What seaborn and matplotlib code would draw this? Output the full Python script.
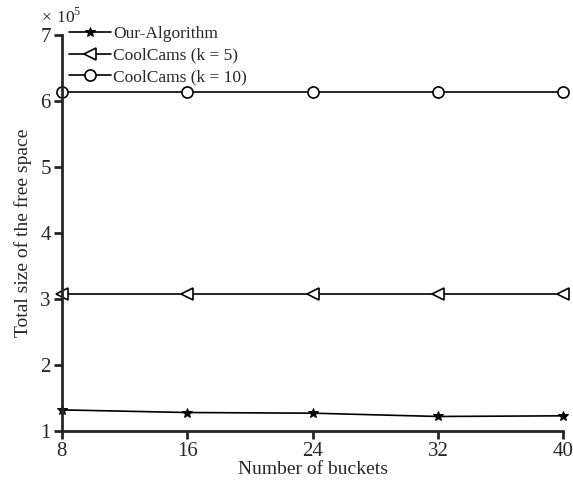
import numpy as np
import pandas as pd
import matplotlib
matplotlib.use('Agg')
import matplotlib.pyplot as plt
import seaborn as sns
from matplotlib.ticker import FuncFormatter

buckets = [8, 16, 24, 32, 40]
our_algorithm = [1.32e5, 1.28e5, 1.27e5, 1.22e5, 1.23e5]
coolcams_k5 = [3.08e5, 3.08e5, 3.08e5, 3.08e5, 3.08e5]
coolcams_k10 = [6.14e5, 6.14e5, 6.14e5, 6.14e5, 6.14e5]

sns.set_style('ticks')
plt.rcParams['font.family'] = ['Liberation Serif', 'DejaVu Serif']
plt.rcParams['mathtext.fontset'] = 'custom'
plt.rcParams['mathtext.rm'] = 'Liberation Serif'

fig = plt.figure(figsize=(5.73, 4.87), dpi=100)
ax = fig.add_axes([0.108, 0.115, 0.875, 0.813])

sns.lineplot(x=buckets, y=our_algorithm, ax=ax, color='black', lw=1.2,
             marker='*', markersize=7, markerfacecolor='black',
             markeredgecolor='black', label='Our-Algorithm')
sns.lineplot(x=buckets, y=coolcams_k5, ax=ax, color='black', lw=1.2,
             marker='<', markersize=8, markerfacecolor='white',
             markeredgecolor='black', markeredgewidth=1.2, label='CoolCams (k = 5)')
sns.lineplot(x=buckets, y=coolcams_k10, ax=ax, color='black', lw=1.2,
             marker='o', markersize=8, markerfacecolor='white',
             markeredgecolor='black', markeredgewidth=1.2, label='CoolCams (k = 10)')

for line in ax.lines:
    line.set_clip_on(False)

ax.set_xlim(8, 40)
ax.set_ylim(1e5, 7e5)
ax.set_xticks(buckets)
ax.set_yticks([1e5, 2e5, 3e5, 4e5, 5e5, 6e5, 7e5])
ax.yaxis.set_major_formatter(FuncFormatter(lambda v, p: f'{v / 1e5:g}'))
ax.text(-0.042, 1.02, r'$\times\ 10^{5}$', transform=ax.transAxes,
        fontsize=12.5, ha='left', va='bottom')

sns.despine(ax=ax)
for s in ['left', 'bottom']:
    ax.spines[s].set_linewidth(2)
ax.tick_params(direction='out', width=2, length=6, labelsize=15, pad=2)

ax.set_xlabel('Number of buckets', fontsize=14, labelpad=0)
ax.set_ylabel('Total size of the free space', fontsize=14, labelpad=6)

ax.legend(loc='upper left', bbox_to_anchor=(0.0, 1.04), frameon=False,
          fontsize=12.5, handlelength=2.45, handletextpad=0.1,
          labelspacing=0.3, borderaxespad=0.0)

fig.savefig('out.png', dpi=100)
